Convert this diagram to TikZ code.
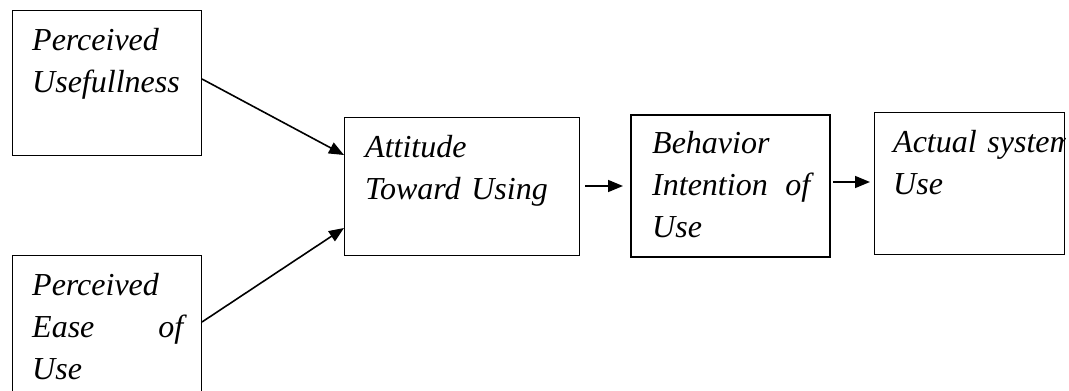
\documentclass[tikz,border=0pt]{standalone}
\usepackage{fontspec}
\setmainfont{Liberation Serif}
\usetikzlibrary{arrows.meta}
\tikzset{
  box/.style={draw=black, line width=1.2pt, inner sep=0pt, anchor=north west},
  thickbox/.style={box, line width=2pt},
  lbl/.style={anchor=base west, inner sep=0pt, align=left,
    font=\fontsize{32}{42}\selectfont\itshape},
  arr/.style={line width=1.6pt, -{Triangle[length=15pt,width=12pt]}},
}
\begin{document}
\begin{tikzpicture}[x=1pt,y=-1pt]
\useasboundingbox (0,0) rectangle (1069,391);
% boxes
\node[box, minimum width=189pt, minimum height=145pt] (pu) at (12,10) {};
\node[box, minimum width=189pt, minimum height=145pt] (pe) at (12,255) {};
\node[box, minimum width=235pt, minimum height=138pt] (at) at (344,117) {};
\node[thickbox, minimum width=199pt, minimum height=142pt] (bi) at (630,114) {};
\node[box, minimum width=190pt, minimum height=142pt] (au) at (874,112) {};
% texts
\node[lbl, text width=165pt] (tpu) at (32,50) {Perceived\\Usefullness};
\node[lbl, text width=151pt] (tpe) at (32,295) {Perceived\\Ease\hfill of\\Use};
\node[lbl, text width=210pt] (tat) at (365,157) {Attitude\\Toward Using};
\node[lbl, text width=158pt] (tbi) at (652,153) {Behavior\\Intention\hfill of\\Use};
\begin{scope}
  \clip (au.north west) rectangle (au.south east);
  \node[lbl, text width=200pt] (tau) at (893,152) {Actual system\\Use};
\end{scope}
% connectors
\coordinate (a1) at (202,79);
\coordinate (a2) at (202,322);
\draw[arr] (a1) -- (at.west |- 0,155);
\draw[arr] (a2) -- (at.west |- 0,228);
\draw[arr, shorten >=7pt] (585,186) -- (bi.west |- 0,186);
\draw[arr, shorten >=4pt] (833,182) -- (au.west |- 0,182);
\end{tikzpicture}
\end{document}
